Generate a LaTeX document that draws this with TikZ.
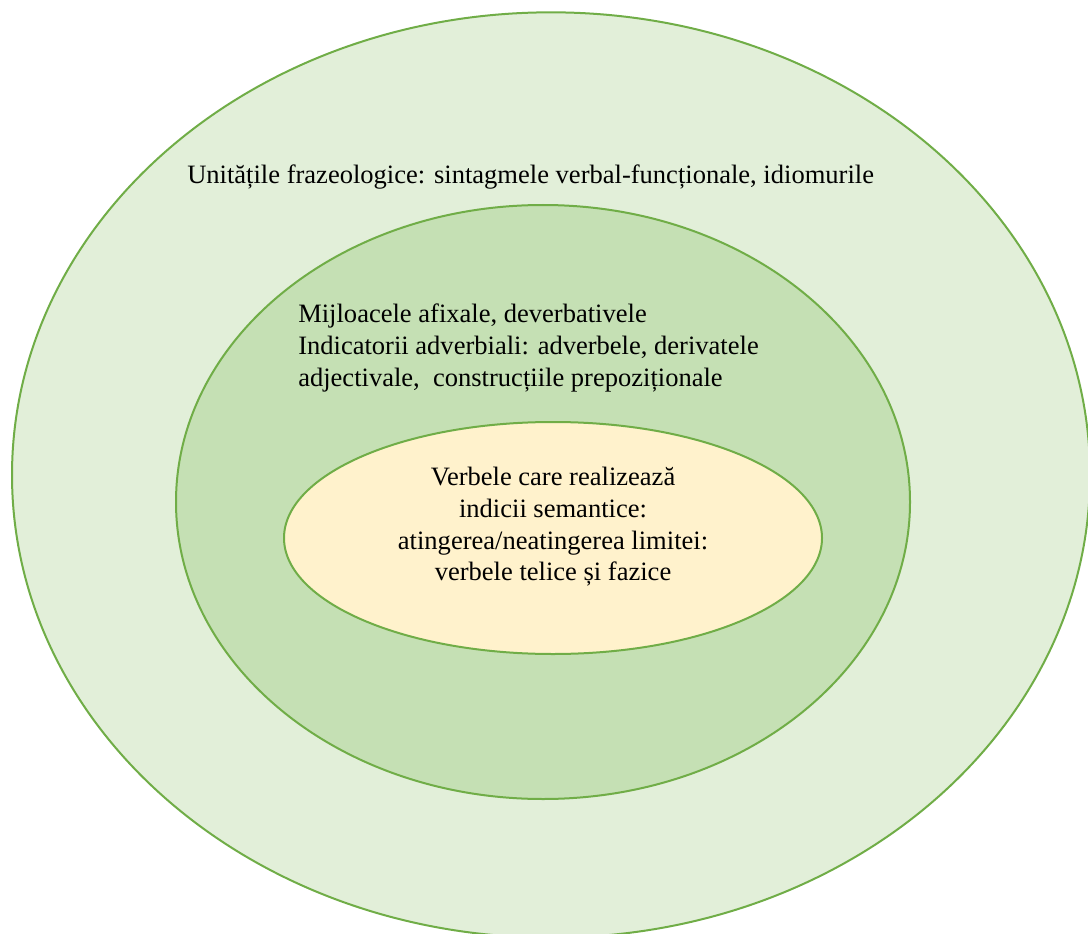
\documentclass[tikz,border=0pt]{standalone}
\usepackage{fontspec}
\setmainfont{Liberation Serif}
\usetikzlibrary{shapes.geometric}
\definecolor{outerfill}{HTML}{E2EFD9}
\definecolor{midfill}{HTML}{C5E0B4}
\definecolor{innerfill}{HTML}{FFF2CC}
\definecolor{ringline}{HTML}{70AD47}
\begin{document}
\begin{tikzpicture}[x=0.75pt,y=-0.75pt,
  ring/.style={ellipse, draw=ringline, line width=1.5pt, inner sep=0pt},
  lbl/.style={font=\fontsize{19.9}{23.7}\selectfont, inner sep=0pt}]
\useasboundingbox (0,0) rectangle (1088,934);
\node[ring, fill=outerfill, minimum width=808.5pt, minimum height=694pt] (outer) at (551,475) {};
\node[ring, fill=midfill, minimum width=550.5pt, minimum height=445.5pt] (mid) at (543,502) {};
\node[ring, fill=innerfill, minimum width=403.5pt, minimum height=174pt] (inner) at (553,538) {};
\node[lbl, anchor=west] (t1) at (187,177) {Unitățile frazeologice: sintagmele verbal-funcționale, idiomurile};
\node[lbl, anchor=west, align=left] (t2) at (298,348) {Mijloacele afixale, deverbativele\\Indicatorii adverbiali: adverbele, derivatele\\adjectivale,\ \ construcțiile prepoziționale};
\node[lbl, align=center] (t3) at (553,527) {Verbele care realizează\\indicii semantice:\\atingerea/neatingerea limitei:\\verbele telice și fazice};
\end{tikzpicture}
\end{document}
